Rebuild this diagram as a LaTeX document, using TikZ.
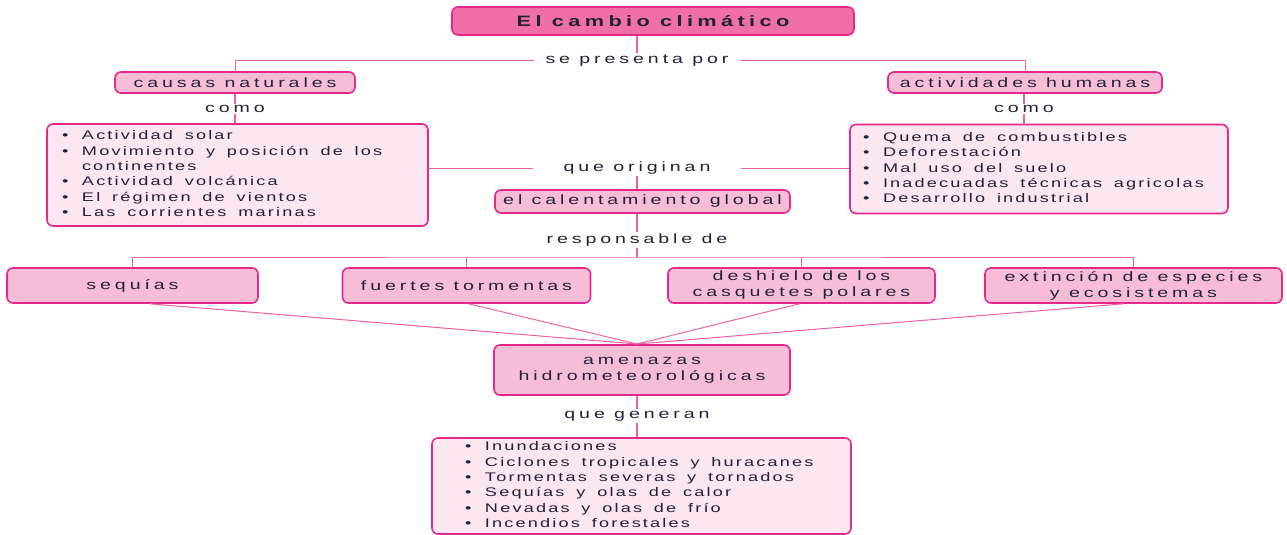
\documentclass[tikz,border=0pt]{standalone}
\usepackage{fontspec}
\setmainfont{Liberation Sans}[LetterSpace=20]
\newfontfamily\lstfam{Liberation Sans}[LetterSpace=12]
\definecolor{titlefill}{HTML}{EF6FA6}
\definecolor{boxline}{HTML}{E5288B}
\definecolor{midfill}{HTML}{F7BDD7}
\definecolor{listfill}{HTML}{FCE6F0}
\definecolor{conncol}{HTML}{EE62A3}
\definecolor{txt}{HTML}{222238}
\newcommand\sx[1]{\scalebox{1.45}[1]{#1}}
\newcommand\itm{\makebox[13.8pt][l]{\textbullet}}
\newcommand\ind{\hspace*{13.8pt}}
\newcommand\w{\hspace{4pt} }
\newcommand\listfont{\lstfam\fontsize{12.5}{15.3}\selectfont}
\newenvironment{blist}{\begin{tabular}{@{}l@{}}}{\end{tabular}}
\tikzset{
  box/.style={draw=boxline, line width=1.6pt, rounded corners=6pt, text=txt, inner sep=0pt, align=center},
  titlebox/.style={box, fill=titlefill, font=\fontsize{15}{18}\selectfont\bfseries},
  midbox/.style={box, fill=midfill, font=\fontsize{13.5}{16}\selectfont},
  listbox/.style={box, fill=listfill, font=\listfont, align=left},
  lbl/.style={text=txt, font=\fontsize{13.5}{16}\selectfont, inner ysep=1.5pt, inner xsep=2pt},
  conn/.style={draw=conncol, line width=1pt},
  stub/.style={draw=conncol, line width=2pt},
}
\begin{document}
\begin{tikzpicture}[x=1pt,y=-1pt]
\useasboundingbox (0,0) rectangle (1287,535);
% nodes
\node[titlebox, minimum width=402pt, minimum height=28pt] (title) at (653,21) {\sx{El cambio climático}};
\node[lbl, inner xsep=11pt] (sp) at (637,60.5) {\sx{se presenta por}};
\node[midbox, minimum width=240pt, minimum height=21pt] (nat) at (235,82.5) {\sx{causas naturales}};
\node[midbox, minimum width=274pt, minimum height=21pt] (hum) at (1025,82.5) {\sx{actividades humanas}};
\node[lbl] (como1) at (235,109) {\sx{como}};
\node[lbl] (como2) at (1024,109) {\sx{como}};
\node[listbox, text width=351pt, inner xsep=15pt, minimum height=102pt] (listL) at (237.5,175) {\sx{\begin{blist}
\itm Actividad\w solar\\
\itm Movimiento\w y\w posición\w de\w los\\
\ind continentes\\
\itm Actividad\w volcánica\\
\itm El\w régimen\w de\w vientos\\
\itm Las\w corrientes\w marinas
\end{blist}}};
\node[listbox, text width=352pt, inner xsep=13pt, minimum height=89pt] (listR) at (1039,169) {\sx{\begin{blist}
\itm Quema\w de\w combustibles\\
\itm Deforestación\\
\itm Mal\w uso\w del\w suelo\\
\itm Inadecuadas\w técnicas\w agricolas\\
\itm Desarrollo\w industrial
\end{blist}}};
\node[lbl, inner xsep=30pt] (qo) at (637,168.5) {\sx{que originan}};
\node[midbox, minimum width=295pt, minimum height=23pt] (cal) at (642.5,201.5) {\sx{el calentamiento global}};
\node[lbl] (rd) at (637,240) {\sx{responsable de}};
\node[midbox, minimum width=251pt, minimum height=35pt] (seq) at (132.5,285.5) {\sx{sequías}};
\node[midbox, minimum width=248pt, minimum height=35pt] (fue) at (466.5,285.5) {\sx{fuertes tormentas}};
\node[midbox, minimum width=267pt, minimum height=35pt] (des) at (801.5,285.5) {\sx{deshielo de los}\\\sx{casquetes polares}};
\node[midbox, minimum width=297pt, minimum height=35pt] (ext) at (1133.5,285.5) {\sx{extinción de especies}\\\sx{y ecosistemas}};
\node[midbox, minimum width=296pt, minimum height=50pt] (amen) at (642,370) {\sx{amenazas}\\\sx{hidrometeorológicas}};
\node[lbl] (qg) at (637,416) {\sx{que generan}};
\node[listbox, text width=353pt, inner xsep=33pt, minimum height=96pt] (listB) at (641.5,486) {\sx{\begin{blist}
\itm Inundaciones\\
\itm Ciclones\w tropicales\w y\w huracanes\\
\itm Tormentas\w severas\w y\w tornados\\
\itm Sequías\w y\w olas\w de\w calor\\
\itm Nevadas\w y\w olas\w de\w frío\\
\itm Incendios\w forestales
\end{blist}}};
\coordinate (bar) at (637,257);
\coordinate (conv) at (637,344);
% connectors
\draw[stub] (title.south -| sp.north) -- (sp.north);
\draw[conn] (sp.west) -| (nat.north);
\draw[conn] (sp.east) -| (hum.north);
\draw[stub] (nat.south) -- (como1.north);
\draw[stub] (como1.south) -- (como1.south |- listL.north);
\draw[stub] (como2.north |- hum.south) -- (como2.north);
\draw[stub] (como2.south) -- (como2.south |- listR.north);
\draw[conn] (qo.west) -- (qo.west -| listL.east);
\draw[conn] (qo.east) -- (qo.east -| listR.west);
\draw[stub] (qo.south) -- (qo.south |- cal.north);
\draw[stub] (rd.north |- cal.south) -- (rd.north);
\draw[stub] (rd.south) -- (bar);
\draw[conn] (seq.north) |- (bar) -| (ext.north);
\draw[conn] (fue.north) -- (fue.north |- bar);
\draw[conn] (des.north) -- (des.north |- bar);
\draw[conn] ([xshift=17pt]seq.south) -- (conv);
\draw[conn] ([xshift=2pt]fue.south) -- (conv);
\draw[conn] ([xshift=-2pt]des.south) -- (conv);
\draw[conn] ([xshift=-10pt]ext.south) -- (conv);
\draw[stub] (qg.north |- amen.south) -- (qg.north);
\draw[stub] (qg.south) -- (qg.south |- listB.north);
\end{tikzpicture}
\end{document}
